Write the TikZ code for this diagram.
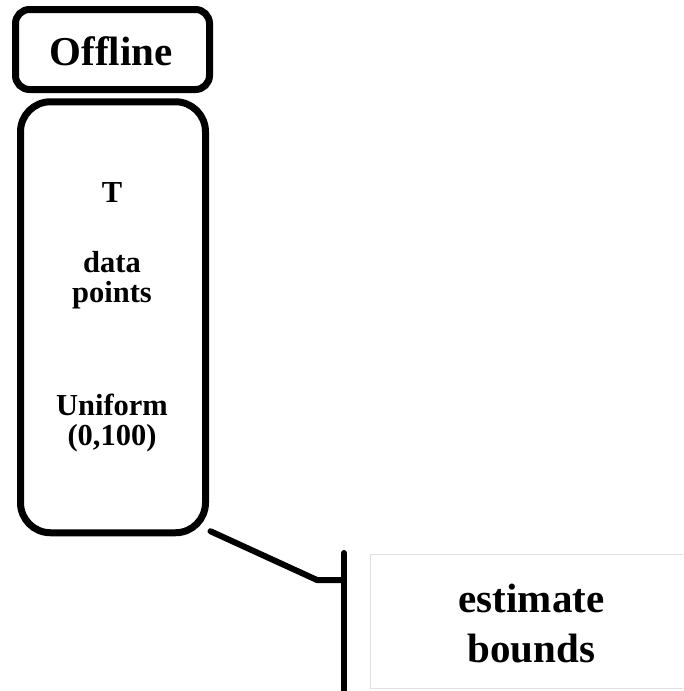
\documentclass[tikz,border=0pt]{standalone}
\usepackage{fontspec}
\setmainfont{Liberation Serif}
\begin{document}
\begin{tikzpicture}[x=1pt,y=-1pt,
  roundbox/.style={draw=black,line width=7pt,inner sep=0pt,fill=white},
  bodytext/.style={font=\bfseries\fontsize{30.5}{30}\selectfont,align=center,inner sep=0pt,anchor=base},
  bigtext/.style={font=\bfseries\fontsize{41}{50}\selectfont,align=center,inner sep=0pt,anchor=base},
  link/.style={line width=6pt,line cap=round,line join=round}]
\useasboundingbox (0,0) rectangle (683,691);
\clip (0,0) rectangle (683,691);

% header box
\node[roundbox,rounded corners=14pt,minimum width=194pt,minimum height=80pt] (offline) at (112.5,49.5) {};
\node[bigtext] (offlinetxt) at (111,65) {Offline};

% tall box with the offline data description
% (a multi-line node's base anchor sits on its last line)
\node[roundbox,rounded corners=30pt,minimum width=185pt,minimum height=431pt] (data) at (113,317.25) {};
\node[bodytext] (t) at (112,202) {T};
\node[bodytext] (pts) at (112,302) {data\\points};
\node[bodytext] (dist) at (112,445) {Uniform\\(0,100)};

% light frame with the next step
\node[draw=black!12,line width=1pt,minimum width=322pt,minimum height=134pt,inner sep=0pt] (est) at (531,621.5) {};
\node[bigtext] (esttxt) at (531.5,662) {estimate\\bounds};

% bracket connector
\coordinate (start) at ([shift={(1.5,-5)}]data.south east);
\coordinate (knee) at (317,580);
\coordinate (bartop) at (344,553);
\coordinate (barbot) at (344,700);
\draw[link] (start) -- (knee) -- (knee -| bartop);
\draw[link] (bartop) -- (barbot);
\end{tikzpicture}
\end{document}
